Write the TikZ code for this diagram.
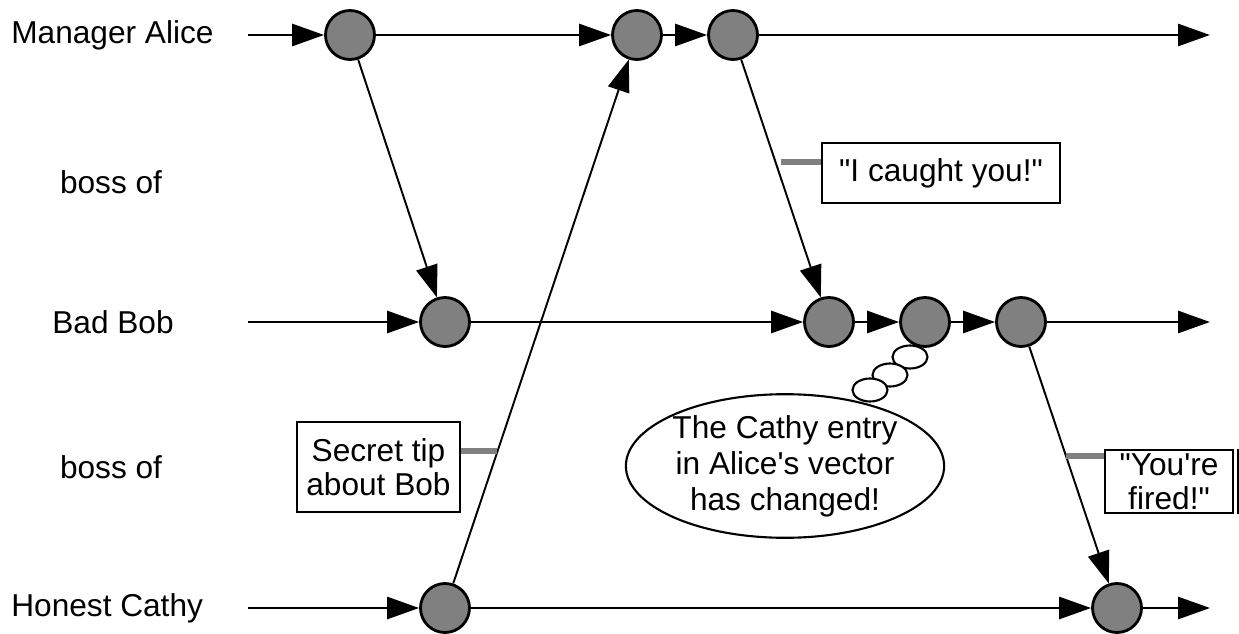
\documentclass[tikz,border=0pt]{standalone}
\usepackage{fontspec}
\setmainfont{Liberation Sans}
\usetikzlibrary{arrows.meta}
\usetikzlibrary{positioning}
\usetikzlibrary{shapes.geometric}

\tikzset{
	event/.style={circle, draw, line width=1.6pt, fill=gray, minimum size=0.98cm, inner sep=0pt},
	timeline/.style={-{Triangle[length=0.64cm,width=0.44cm]}, line width=1.6pt},
	msg/.style={-{Triangle[length=0.64cm,width=0.44cm]}, line width=1.1pt},
	lbl/.style={inner sep=0pt, font=\fontsize{18}{20}\selectfont},
	notebox/.style={draw, line width=1.3pt, align=center, inner sep=0pt, font=\fontsize{18}{19.5}\selectfont},
	tie/.style={line width=3.4pt, gray},
	bubble/.style={ellipse, draw, line width=1.2pt, fill=white, inner sep=0pt, minimum width=0.7cm, minimum height=0.46cm}
}

\begin{document}
\begin{tikzpicture} % who knew what, and when
	
	\useasboundingbox (0,0) rectangle (24.78,-12.68);
	
	%process names
	\node[lbl, anchor=west] (alice) at (0.22,-0.7) {Manager Alice};
	\node[lbl] (boss1) at (2.22,-3.64) {boss of};
	\node[lbl] (bob) at (2.26,-6.44) {Bad Bob};
	\node[lbl] (boss2) at (2.22,-9.34) {boss of};
	\node[lbl, anchor=west] (cathy) at (0.22,-12.16) {Honest Cathy};
	
	%events
	\node[event] (a1) at (7.0,-0.7) {};
	\node[event] (a2) at (12.74,-0.7) {};
	\node[event] (a3) at (14.66,-0.7) {};
	
	\node[event] (b1) at (8.9,-6.44) {};
	\node[event] (b2) at (16.58,-6.44) {};
	\node[event] (b3) at (18.5,-6.44) {};
	\node[event] (b4) at (20.42,-6.44) {};
	
	\node[event] (c1) at (8.9,-12.16) {};
	\node[event] (c2) at (22.34,-12.16) {};
	
	\coordinate (astart) at (4.96,-0.7);
	\coordinate (aend) at (24.2,-0.7);
	\coordinate (bstart) at (4.96,-6.44);
	\coordinate (bend) at (24.2,-6.44);
	\coordinate (cstart) at (4.96,-12.16);
	\coordinate (cend) at (24.2,-12.16);
	
	%time lines
	\draw[timeline] (astart) -- (a1);
	\draw[timeline] (a1) -- (a2);
	\draw[timeline] (a2) -- (a3);
	\draw[timeline] (a3) -- (aend);
	
	\draw[timeline] (bstart) -- (b1);
	\draw[timeline] (b1) -- (b2);
	\draw[timeline] (b2) -- (b3);
	\draw[timeline] (b3) -- (b4);
	\draw[timeline] (b4) -- (bend);
	
	\draw[timeline] (cstart) -- (c1);
	\draw[timeline] (c1) -- (c2);
	\draw[timeline] (c2) -- (cend);
	
	%messages
	\draw[msg] (a1) -- (b1);
	\draw[msg] (c1) -- (a2);
	\draw[msg] (a3) -- (b2);
	\draw[msg] (b4) -- (c2);
	
	%message contents
	\node[notebox, minimum width=3.26cm, minimum height=1.8cm] (tip) at (7.57,-9.34) {Secret tip\\about Bob};
	\node[notebox, minimum width=4.76cm, minimum height=1.2cm] (caught) at (18.82,-3.46) {\textquotedbl I caught you!\textquotedbl};
	\node[notebox, minimum width=2.56cm, minimum height=1.26cm] (fired) at (23.38,-9.63) {\textquotedbl You\textquotesingle re\\fired!\textquotedbl};
	\draw[line width=1.3pt] ([xshift=0.08cm]fired.north east) -- ([xshift=0.08cm]fired.south east);
	
	\coordinate (tipend) at (9.94,-9.02);
	\coordinate (caughtend) at (15.62,-3.24);
	\coordinate (firedend) at (21.32,-9.12);
	
	\draw[tie] (tipend) -- (tip.east |- tipend);
	\draw[tie] (caughtend) -- (caught.west |- caughtend);
	\draw[tie] (firedend) -- (fired.west |- firedend);
	
	%thought
	\node[ellipse, draw, line width=1.2pt, inner sep=0pt, minimum width=6.16cm, minimum height=2.76cm, align=center, font=\fontsize{18}{20.5}\selectfont] (thought) at (15.7,-9.32) {The Cathy entry\\in Alice\textquotesingle s vector\\has changed!};
	\node[bubble] (puff1) at (18.2,-7.14) {};
	\node[bubble] (puff2) at (17.8,-7.5) {};
	\node[bubble] (puff3) at (17.4,-7.8) {};
	
\end{tikzpicture}
\end{document}
